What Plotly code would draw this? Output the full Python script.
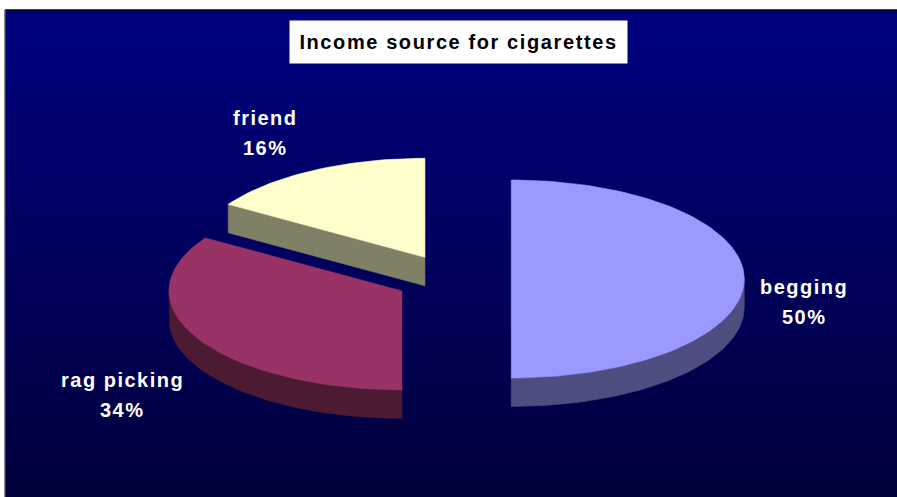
import numpy as np
import plotly.graph_objects as go

# ---- data ----
labels = ["begging", "rag picking", "friend"]
values = [50, 34, 16]
title_text = "Income source for cigarettes"

# ---- style ----
top_colors = ["#9999FF", "#993366", "#FFFFCC"]
side_colors = ["#4D4D80", "#4D1A33", "#808066"]
FONT = "Liberation Sans, Arial, sans-serif"

W, H = 897, 497
CX, CY = 453, 279          # pie centre (px)
RX, RY = 233, 99           # ellipse radii (px)
DEPTH = 28.5               # 3D thickness (px)
PULL = 0.25                # explosion
LBL_KX, LBL_KY, LBL_DX, LBL_DY = 1.31, 1.7, -12, 23

total = float(sum(values))
fracs = [v / total for v in values]
starts = np.cumsum([0.0] + fracs[:-1]) * 360.0
ends = starts + np.array(fracs) * 360.0


def pt(cx, cy, ang, dz=0.0):
    a = np.radians(ang)
    return cx + RX * np.sin(a), cy - RY * np.cos(a) + dz


def arc(cx, cy, a1, a2, dz=0.0, n=None):
    if n is None:
        n = max(4, int(abs(a2 - a1) / 1.5))
    angs = np.linspace(a1, a2, n)
    xs, ys = pt(cx, cy, angs, dz)
    return list(xs), list(ys)


fig = go.Figure()

# background gradient panel
fig.add_trace(go.Scatter(
    x=[5, W, W, 5, 5], y=[10, 10, H, H, 10], mode="lines", fill="toself",
    line=dict(width=0),
    fillgradient=dict(type="vertical", start=10, stop=H,
                      colorscale=[[0, "#000080"], [1, "#00003C"]]),
    hoverinfo="skip"))


def poly(xs, ys, color):
    fig.add_trace(go.Scatter(
        x=xs + [xs[0]], y=ys + [ys[0]], mode="lines", fill="toself",
        fillcolor=color, line=dict(color=color, width=0.6),
        hoverinfo="skip"))


slices = []
for i, (s, e) in enumerate(zip(starts, ends)):
    m = (s + e) / 2.0
    a = np.radians(m)
    ox = CX + PULL * RX * np.sin(a)
    oy = CY - PULL * RY * np.cos(a)
    slices.append((oy, i, s, e, m, ox))

# painter's order: back slices first
for oy, i, s, e, m, ox in sorted(slices):
    side = side_colors[i]
    # outer wall (front half: 90..270)
    a1, a2 = max(s, 90.0), min(e, 270.0)
    if a2 > a1:
        tx, ty = arc(ox, oy, a1, a2)
        bx, by = arc(ox, oy, a2, a1, DEPTH)
        poly(tx + bx, ty + by, side)
    # radial cut faces facing the viewer
    for ang, visible in ((s, np.sin(np.radians(s)) < -1e-9),
                         (e, np.sin(np.radians(e)) > 1e-9)):
        if visible:
            px, py = pt(ox, oy, ang)
            poly([ox, px, px, ox], [oy, py, py + DEPTH, oy + DEPTH], side)
    # top face
    tx, ty = arc(ox, oy, s, e)
    poly([ox] + tx, [oy] + ty, top_colors[i])

# labels
for oy, i, s, e, m, ox in slices:
    a = np.radians(m)
    lx = ox + LBL_KX * RX * np.sin(a) + LBL_DX
    ly = oy - LBL_KY * RY * np.cos(a) + LBL_DY
    pct = f"{round(values[i] / total * 100):.0f}%"
    for txt, dy in ((labels[i], -15), (pct, 15)):
        fig.add_annotation(
            x=lx, y=ly + dy, xref="x", yref="y", showarrow=False,
            text=f"<b><span style='letter-spacing:1.5px'>{txt}</span></b>",
            font=dict(family=FONT, size=20, color="white"),
            xanchor="center", yanchor="middle")

# title box
fig.add_annotation(
    x=458.5, y=42, xref="x", yref="y", showarrow=False,
    text=f"<b><span style='letter-spacing:1.6px'>{title_text}</span></b>",
    font=dict(family=FONT, size=20, color="black"),
    bgcolor="white", width=337, height=42, borderpad=0,
    xanchor="center", yanchor="middle", align="center", valign="middle")

# frame lines
fig.add_shape(type="line", x0=5, y0=10, x1=W, y1=10, xref="x", yref="y",
              line=dict(color="black", width=1.5))
fig.add_shape(type="line", x0=5, y0=10, x1=5, y1=H, xref="x", yref="y",
              line=dict(color="#555555", width=1.5))

fig.update_layout(
    width=W, height=H, margin=dict(l=0, r=0, t=0, b=0),
    paper_bgcolor="white", plot_bgcolor="white", showlegend=False,
    xaxis=dict(range=[0, W], visible=False, fixedrange=True),
    yaxis=dict(range=[H, 0], visible=False, fixedrange=True),
)

fig.write_html("out.html")
